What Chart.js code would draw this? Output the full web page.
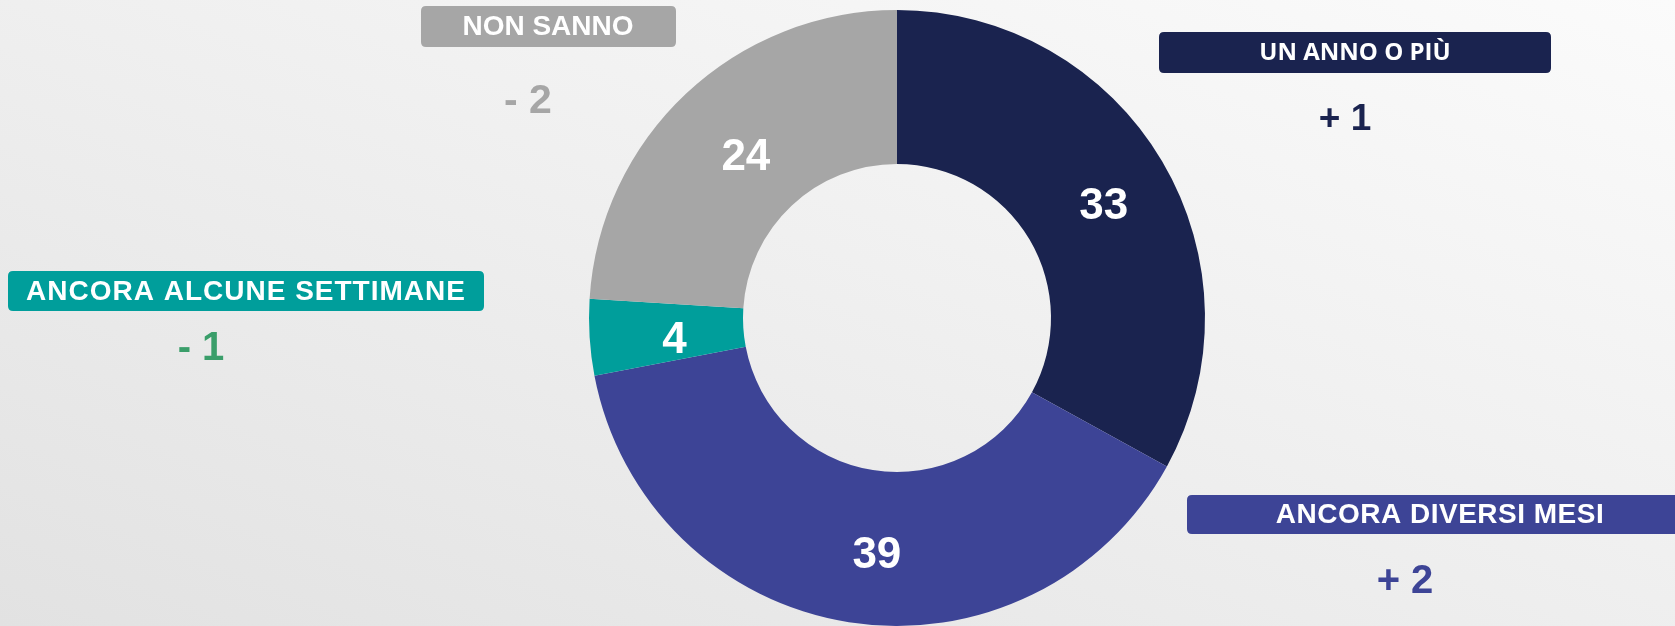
<!DOCTYPE html>
<html>
<head>
<meta charset="utf-8">
<script src="https://cdn.jsdelivr.net/npm/chart.js@4.4.1/dist/chart.umd.min.js"></script>
<style>
  html, body { margin: 0; padding: 0; overflow: hidden; }
  body {
    width: 1675px; height: 626px;
    background: linear-gradient(200deg, #fbfbfb 0%, #f0f0f0 45%, #e2e2e2 100%);
  }
  #wrap { position: relative; width: 1675px; height: 626px; }
</style>
</head>
<body>
<div id="wrap"><canvas id="donutChart"></canvas></div>
<script>
// dati del grafico
var categories = ['UN ANNO O PIÙ', 'ANCORA DIVERSI MESI', 'ANCORA ALCUNE SETTIMANE', 'NON SANNO'];
var values = [33, 39, 4, 24];
var deltas = ['+ 1', '+ 2', '- 1', '- 2'];

var sliceColors = ['#1a234f', '#3d4496', '#009e9b', '#a6a6a6'];
var deltaColors = ['#1a234f', '#3d4496', '#3a9e6a', '#a6a6a6'];

// posizione delle etichette (box + variazione) per ogni categoria
var boxes = [
    { x: 1159, y: 32, w: 392, h: 41, font: 'bold 24px "Open Sans"', spacing: 0, tx: 1355, dx: 1345, dy: 120, dsize: 37 },
    { x: 1187, y: 495, w: 500, h: 39, font: 'bold 28px "Liberation Sans", Arial', spacing: 0.5, tx: 1440, dx: 1405, dy: 582, dsize: 40 },
    { x: 8, y: 271, w: 476, h: 40, font: 'bold 28px "Liberation Sans", Arial', spacing: 1, tx: 246, dx: 201, dy: 349, dsize: 40 },
    { x: 421, y: 6, w: 255, h: 41, font: 'bold 28px "Liberation Sans", Arial', spacing: 0, tx: 548, dx: 528, dy: 102, dsize: 41 }
];
// piccoli spostamenti dei valori rispetto al centro della fetta
var nudges = [[8, 4], [16, 8], [8, 6], [7, 6]];

function roundRect(ctx, x, y, w, h, r) {
    ctx.beginPath();
    ctx.moveTo(x + r, y);
    ctx.lineTo(x + w - r, y);
    ctx.quadraticCurveTo(x + w, y, x + w, y + r);
    ctx.lineTo(x + w, y + h - r);
    ctx.quadraticCurveTo(x + w, y + h, x + w - r, y + h);
    ctx.lineTo(x + r, y + h);
    ctx.quadraticCurveTo(x, y + h, x, y + h - r);
    ctx.lineTo(x, y + r);
    ctx.quadraticCurveTo(x, y, x + r, y);
    ctx.closePath();
}

var labelsPlugin = {
    id: 'labelsPlugin',
    afterDatasetsDraw: function(chart) {
        var ctx = chart.ctx;
        var meta = chart.getDatasetMeta(0);
        ctx.save();
        // valori dentro le fette
        ctx.fillStyle = '#ffffff';
        ctx.font = 'bold 44px "Liberation Sans", Arial';
        ctx.textAlign = 'center';
        ctx.textBaseline = 'middle';
        meta.data.forEach(function(arc, i) {
            var p = arc.getCenterPoint();
            ctx.fillText(values[i], p.x + nudges[i][0], p.y + 2 + nudges[i][1]);
        });

        // box con le categorie e variazioni
        categories.forEach(function(name, i) {
            var b = boxes[i];
            ctx.fillStyle = sliceColors[i];
            roundRect(ctx, b.x, b.y, b.w, b.h, 5);
            ctx.fill();

            ctx.fillStyle = '#ffffff';
            ctx.font = b.font;
            ctx.letterSpacing = b.spacing + 'px';
            ctx.fillText(name, b.tx, b.y + b.h / 2 + 1);
            ctx.letterSpacing = '0px';

            ctx.fillStyle = deltaColors[i];
            ctx.font = 'bold ' + b.dsize + 'px "Liberation Sans", Arial';
            ctx.fillText(deltas[i], b.dx, b.dy);
        });
        ctx.restore();
    }
};

var ctx = document.getElementById('donutChart').getContext('2d');
var chart = new Chart(ctx, {
    type: 'doughnut',
    data: {
        labels: categories,
        datasets: [{
            data: values,
            backgroundColor: sliceColors,
            borderWidth: 0,
            hoverOffset: 0
        }]
    },
    options: {
        responsive: true,
        maintainAspectRatio: false,
        animation: false,
        cutout: '50%',
        layout: {
            padding: { left: 587, right: 468, top: 10, bottom: -4 }
        },
        plugins: {
            legend: { display: false },
            tooltip: { enabled: false }
        }
    },
    plugins: [labelsPlugin]
});
</script>
</body>
</html>
